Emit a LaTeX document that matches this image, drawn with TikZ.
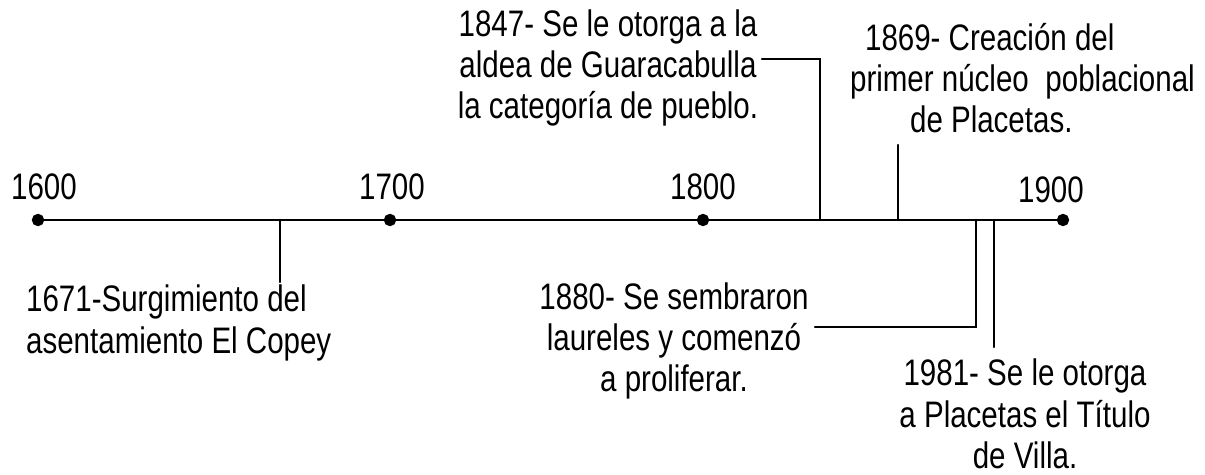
\documentclass[tikz,border=0pt]{standalone}
\usepackage{fontspec}
\setmainfont[FakeStretch=0.8]{Liberation Sans}
\usetikzlibrary{calc}

\begin{document}
\begin{tikzpicture}[x=0.02cm, y=-0.02cm, line cap=round, line width=1.3pt]
    % linea de tiempo 1600 - 1900
    \def\ly{220}
    \def\fnt{\fontsize{21}{23.5}\selectfont}
    \useasboundingbox (0,0) rectangle (1205,474);

    \coordinate (Y1600) at (38, \ly);
    \coordinate (Y1700) at (390, \ly);
    \coordinate (Y1800) at (703, \ly);
    \coordinate (Y1900) at (1063, \ly);

    \draw[] (Y1600) -- (Y1900);
    \filldraw[] (Y1600) circle (5);
    \filldraw[] (Y1700) circle (5);
    \filldraw[] (Y1800) circle (5);
    \filldraw[] (Y1900) circle (5);

    \node[font=\fnt] (L1600) at ($(Y1600) + (6, -33)$) {1600};
    \node[font=\fnt] (L1700) at ($(Y1700) + (2, -33)$) {1700};
    \node[font=\fnt] (L1800) at ($(Y1800) + (0, -33)$) {1800};
    \node[font=\fnt] (L1900) at ($(Y1900) + (-12, -30)$) {1900};

    % sucesos
    \coordinate (A1671) at (280, \ly);
    \coordinate (A1847) at (820, \ly);
    \coordinate (A1869) at (898, \ly);
    \coordinate (A1880) at (976, \ly);
    \coordinate (A1981) at (994, \ly);

    \coordinate (B1671) at (280, 282);
    \coordinate (B1847) at (762, 59);
    \coordinate (B1869) at (898, 145);
    \coordinate (B1880) at (815, 327);
    \coordinate (B1981) at (994, 347);

    \node[font=\fnt, align=left, anchor=west, inner sep=0] (E1671) at (25, 323) {1671-Surgimiento del\\asentamiento El Copey};
    \node[font=\fnt, align=center] (E1847) at (608, 68) {1847- Se le otorga a la\\aldea de Guaracabulla\\la categoría de pueblo.};
    \node[font=\fnt, align=left, anchor=east, inner sep=0] (E1869) at (1196, 78) {\hspace{0.3cm}1869- Creación del\\primer núcleo\hspace{0.45em}poblacional\\\hspace{1.2cm}de Placetas.};
    \node[font=\fnt, align=center] (E1880) at (674, 341) {1880- Se sembraron\\laureles y comenzó\\a proliferar.};
    \node[font=\fnt, align=center] (E1981) at (1025, 414) {1981- Se le otorga\\a Placetas el Título\\de Villa.};

    \draw[] (A1671) -- (B1671);
    \draw[] (A1847) |- (B1847);
    \draw[] (A1869) -- (B1869);
    \draw[] (A1880) |- (B1880);
    \draw[] (A1981) -- (B1981);
\end{tikzpicture}
\end{document}
